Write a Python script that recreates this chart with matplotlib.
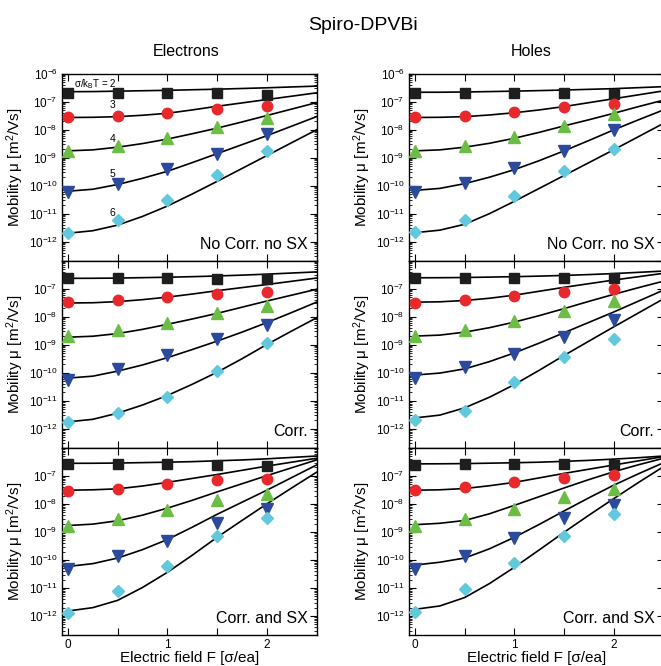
import numpy as np
import matplotlib
matplotlib.use("Agg")
import matplotlib.pyplot as plt
from matplotlib.ticker import LogLocator, NullFormatter, FixedLocator

plt.rcParams["font.family"] = ["Liberation Sans", "DejaVu Sans"]
plt.rcParams["mathtext.fontset"] = "custom"
plt.rcParams["mathtext.rm"] = "Liberation Sans"
plt.rcParams["mathtext.it"] = "Liberation Sans:italic"

# ---- data (log10 of mobility, m^2/Vs) ----
F_pts = [0, 0.5, 1.0, 1.5, 2.0]
F_line = [0, 0.25, 0.5, 0.75, 1.0, 1.25, 1.5, 1.75, 2.0, 2.25, 2.5]
sigmas = [2, 3, 4, 5, 6]

# electrons, no corr no SX
el_nocorr_pts = [
    [-6.69, -6.69, -6.71, -6.71, -6.75],
    [-7.56, -7.53, -7.40, -7.25, -7.16],
    [-8.75, -8.60, -8.31, -7.92, -7.60],
    [-10.24, -9.93, -9.41, -8.86, -8.15],
    [-11.68, -11.23, -10.53, -9.63, -8.76],
]
el_nocorr_lines = [
    [-6.65, -6.645, -6.63, -6.615, -6.60, -6.58, -6.56, -6.535, -6.51, -6.48, -6.45],
    [-7.57, -7.563, -7.54, -7.49, -7.42, -7.30, -7.17, -7.05, -6.93, -6.81, -6.69],
    [-8.76, -8.725, -8.63, -8.50, -8.34, -8.15, -7.95, -7.73, -7.50, -7.27, -7.04],
    [-10.20, -10.13, -9.96, -9.74, -9.49, -9.18, -8.86, -8.54, -8.22, -7.88, -7.54],
    [-11.70, -11.61, -11.41, -11.10, -10.73, -10.30, -9.85, -9.39, -8.93, -8.47, -8.01],
]
# electrons, corr
el_corr_pts = [
    [-6.61, -6.61, -6.62, -6.64, -6.67],
    [-7.49, -7.42, -7.30, -7.18, -7.10],
    [-8.70, -8.46, -8.23, -7.88, -7.60],
    [-10.24, -9.86, -9.36, -8.81, -8.30],
    [-11.75, -11.43, -10.86, -9.94, -8.95],
]
el_corr_lines = [
    [-6.63, -6.627, -6.62, -6.605, -6.59, -6.57, -6.545, -6.515, -6.48, -6.44, -6.40],
    [-7.51, -7.50, -7.46, -7.39, -7.30, -7.19, -7.07, -6.96, -6.85, -6.735, -6.62],
    [-8.73, -8.695, -8.60, -8.45, -8.27, -8.08, -7.88, -7.66, -7.44, -7.23, -7.02],
    [-10.19, -10.12, -9.94, -9.72, -9.46, -9.17, -8.87, -8.55, -8.21, -7.85, -7.48],
    [-11.75, -11.66, -11.44, -11.15, -10.81, -10.41, -9.98, -9.50, -8.99, -8.51, -8.04],
]
# electrons, corr and SX
el_sx_pts = [
    [-6.57, -6.57, -6.59, -6.61, -6.66],
    [-7.53, -7.45, -7.28, -7.16, -7.11],
    [-8.77, -8.55, -8.23, -7.87, -7.63],
    [-10.32, -9.84, -9.31, -8.68, -8.17],
    [-11.88, -11.10, -10.23, -9.13, -8.50],
]
el_sx_lines = [
    [-6.55, -6.548, -6.54, -6.525, -6.51, -6.49, -6.46, -6.43, -6.39, -6.34, -6.29],
    [-7.51, -7.495, -7.46, -7.36, -7.23, -7.09, -6.95, -6.80, -6.65, -6.51, -6.37],
    [-8.77, -8.72, -8.60, -8.40, -8.15, -7.87, -7.57, -7.28, -6.99, -6.71, -6.43],
    [-10.23, -10.13, -9.93, -9.63, -9.27, -8.83, -8.37, -7.94, -7.51, -7.06, -6.61],
    [-11.82, -11.70, -11.44, -10.98, -10.44, -9.83, -9.19, -8.59, -8.00, -7.43, -6.87],
]
# holes, no corr no SX
ho_nocorr_pts = [
    [-6.71, -6.71, -6.69, -6.69, -6.72],
    [-7.56, -7.51, -7.37, -7.18, -7.09],
    [-8.75, -8.58, -8.27, -7.86, -7.46],
    [-10.24, -9.91, -9.37, -8.75, -8.01],
    [-11.66, -11.21, -10.38, -9.49, -8.70],
]
ho_nocorr_lines = [
    [-6.67, -6.668, -6.66, -6.645, -6.63, -6.61, -6.59, -6.565, -6.54, -6.505, -6.47],
    [-7.57, -7.563, -7.54, -7.48, -7.40, -7.30, -7.18, -7.04, -6.90, -6.76, -6.62],
    [-8.76, -8.725, -8.63, -8.49, -8.31, -8.10, -7.87, -7.65, -7.42, -7.18, -6.95],
    [-10.17, -10.10, -9.93, -9.70, -9.43, -9.11, -8.76, -8.39, -8.01, -7.65, -7.30],
    [-11.68, -11.59, -11.38, -11.00, -10.56, -10.10, -9.64, -9.18, -8.72, -8.25, -7.78],
]
# holes, corr
ho_corr_pts = [
    [-6.63, -6.62, -6.61, -6.61, -6.62],
    [-7.50, -7.40, -7.26, -7.10, -7.00],
    [-8.69, -8.48, -8.15, -7.80, -7.44],
    [-10.19, -9.80, -9.32, -8.73, -8.12],
    [-11.67, -11.35, -10.32, -9.43, -8.81],
]
ho_corr_lines = [
    [-6.61, -6.607, -6.60, -6.585, -6.57, -6.55, -6.525, -6.495, -6.46, -6.415, -6.37],
    [-7.48, -7.467, -7.42, -7.34, -7.23, -7.09, -6.95, -6.82, -6.69, -6.57, -6.45],
    [-8.69, -8.655, -8.55, -8.39, -8.19, -7.96, -7.71, -7.45, -7.20, -6.96, -6.73],
    [-10.08, -10.01, -9.86, -9.60, -9.29, -8.94, -8.57, -8.20, -7.83, -7.44, -7.05],
    [-11.61, -11.51, -11.25, -10.87, -10.42, -9.91, -9.38, -8.87, -8.36, -7.86, -7.36],
]
# holes, corr and SX
ho_sx_pts = [
    [-6.60, -6.59, -6.57, -6.57, -6.61],
    [-7.51, -7.41, -7.23, -7.07, -6.98],
    [-8.77, -8.53, -8.17, -7.75, -7.46],
    [-10.32, -9.84, -9.21, -8.50, -8.05],
    [-11.84, -11.02, -10.12, -9.13, -8.37],
]
ho_sx_lines = [
    [-6.57, -6.567, -6.56, -6.545, -6.53, -6.51, -6.48, -6.445, -6.40, -6.35, -6.29],
    [-7.51, -7.495, -7.45, -7.35, -7.23, -7.07, -6.91, -6.76, -6.61, -6.46, -6.31],
    [-8.74, -8.69, -8.59, -8.35, -8.05, -7.74, -7.43, -7.13, -6.85, -6.60, -6.37],
    [-10.18, -10.08, -9.93, -9.60, -9.19, -8.73, -8.25, -7.78, -7.33, -6.92, -6.53],
    [-11.76, -11.64, -11.34, -10.84, -10.26, -9.64, -9.01, -8.40, -7.81, -7.23, -6.67],
]

panel_names = ["No Corr. no SX", "Corr.", "Corr. and SX"]
markers = ["s", "o", "^", "v", "D"]
mcolors = ["#1e1e1e", "#e8282b", "#6cbd45", "#2b4a9c", "#62c8dd"]
msizes = [7, 7.5, 8, 8, 6.5]

W, H = 661, 666
fig = plt.figure(figsize=(W / 100, H / 100), dpi=100)

col_left = [62.5, 409.5]
ax_w = 254.0
row_top = [73.5, 260.7, 447.9]
ax_h = 187.2

data = [
    [(el_nocorr_pts, el_nocorr_lines), (el_corr_pts, el_corr_lines), (el_sx_pts, el_sx_lines)],
    [(ho_nocorr_pts, ho_nocorr_lines), (ho_corr_pts, ho_corr_lines), (ho_sx_pts, ho_sx_lines)],
]

for c in range(2):
    for r in range(3):
        ax = fig.add_axes([col_left[c] / W, 1 - (row_top[r] + ax_h) / H, ax_w / W, ax_h / H])
        pts, lines = data[c][r]
        for i in range(5):
            ax.plot(F_line, 10 ** np.array(lines[i]), color="black", lw=1.2, zorder=2)
            ax.plot(F_pts, 10 ** np.array(pts[i]), ls="none", marker=markers[i],
                    color=mcolors[i], ms=msizes[i], mec=mcolors[i], zorder=3)
        ax.set_yscale("log")
        ax.set_xlim(-0.055, 2.5)
        ax.set_ylim(10 ** -12.68, 1e-6)

        ax.yaxis.set_major_locator(FixedLocator([10.0 ** k for k in range(-12, -5)]))
        ax.yaxis.set_minor_locator(LogLocator(base=10, subs=np.arange(2, 10), numticks=20))
        ax.yaxis.set_minor_formatter(NullFormatter())
        if r == 0:
            ax.set_yticklabels(["$10^{-%d}$" % k for k in range(12, 5, -1)])
        else:
            ax.set_yticklabels(["$10^{-%d}$" % k for k in range(12, 6, -1)] + [""])

        ax.set_xticks([0, 1, 2])
        ax.set_xticks([0.5, 1.5], minor=True)
        if r == 2:
            ax.set_xticklabels(["0", "1", "2"])
            ax.set_xlabel("Electric field F [\u03c3/ea]", fontsize=11, labelpad=0)
        else:
            ax.set_xticklabels([])
        ax.tick_params(which="both", direction="in", top=True, right=True, labelsize=8.5)
        ax.tick_params(axis="x", which="major", pad=2.5)
        ax.tick_params(which="major", length=5, width=0.8)
        ax.tick_params(axis="x", which="minor", length=5, width=0.8)
        ax.tick_params(axis="y", which="minor", length=2.5, width=0.6)
        for s in ax.spines.values():
            s.set_linewidth(1.0)

        ax.set_ylabel("Mobility \u03bc [m$^2$/Vs]", fontsize=11, labelpad=2)
        ax.text(1 - 9 / ax_w, 12 / ax_h, panel_names[r], transform=ax.transAxes,
                ha="right", va="baseline", fontsize=11.5)

        if c == 0 and r == 0:
            ax.text(0.06, 10 ** -6.37, "\u03c3/k$_\\mathrm{B}$T = 2", fontsize=7,
                    ha="left", va="center")
            for s, yv in zip([3, 4, 5, 6], [-7.12, -8.34, -9.59, -10.99]):
                ax.text(0.45, 10 ** yv, str(s), fontsize=7.5, ha="center", va="center")

fig.text(363 / W, 1 - 25 / H, "Spiro-DPVBi", ha="center", va="center", fontsize=14)
fig.text(186 / W, 1 - 52 / H, "Electrons", ha="center", va="center", fontsize=11.5)
fig.text(531 / W, 1 - 52 / H, "Holes", ha="center", va="center", fontsize=11.5)

fig.savefig("out.png", dpi=100)
